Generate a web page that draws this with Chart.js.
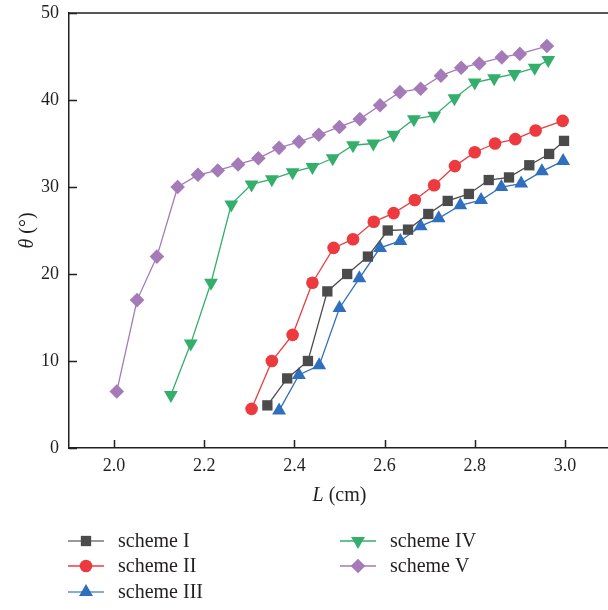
<!DOCTYPE html>
<html>
<head>
<meta charset="utf-8">
<script src="https://cdn.jsdelivr.net/npm/chart.js@4/dist/chart.umd.min.js"></script>
<style>
  html, body { margin: 0; padding: 0; background: #fff; overflow: hidden; }
  canvas { display: block; }
</style>
</head>
<body>
<canvas id="chart" width="618" height="610"></canvas>
<script>
// tick values
const X_TICKS = [2.0, 2.2, 2.4, 2.6, 2.8, 3.0];
const Y_TICKS = [0, 10, 20, 30, 40, 50];

// scheme I
const L_I = [2.34, 2.384, 2.43, 2.473, 2.517, 2.563, 2.607, 2.652, 2.697, 2.74, 2.787, 2.831, 2.876, 2.921, 2.965, 2.998];
const THETA_I = [4.9, 8.0, 10.0, 18.0, 20.0, 22.0, 25.0, 25.1, 26.9, 28.4, 29.2, 30.8, 31.1, 32.5, 33.8, 35.3];
// scheme II
const L_II = [2.305, 2.35, 2.396, 2.44, 2.487, 2.53, 2.576, 2.62, 2.667, 2.71, 2.756, 2.8, 2.845, 2.89, 2.935, 2.995];
const THETA_II = [4.5, 10.0, 13.0, 19.0, 23.0, 24.0, 26.0, 27.0, 28.5, 30.2, 32.4, 34.0, 35.0, 35.5, 36.5, 37.6];
// scheme III
const L_III = [2.366, 2.41, 2.455, 2.5, 2.544, 2.59, 2.635, 2.68, 2.72, 2.768, 2.814, 2.859, 2.903, 2.949, 2.996];
const THETA_III = [4.3, 8.4, 9.5, 16.1, 19.5, 23.0, 23.8, 25.5, 26.4, 27.9, 28.5, 30.0, 30.4, 31.8, 33.0];
// scheme IV
const L_IV = [2.126, 2.17, 2.215, 2.26, 2.305, 2.35, 2.396, 2.44, 2.485, 2.53, 2.575, 2.62, 2.665, 2.71, 2.755, 2.8, 2.843, 2.888, 2.933, 2.963];
const THETA_IV = [6.1, 12.0, 19.0, 28.0, 30.3, 30.9, 31.7, 32.3, 33.3, 34.8, 35.0, 36.0, 37.8, 38.2, 40.2, 42.0, 42.5, 43.0, 43.7, 44.6];
// scheme V
const L_V = [2.006, 2.051, 2.095, 2.141, 2.186, 2.23, 2.275, 2.32, 2.366, 2.41, 2.454, 2.5, 2.545, 2.59, 2.634, 2.68, 2.725, 2.77, 2.81, 2.86, 2.9, 2.96];
const THETA_V = [6.5, 17.0, 22.0, 30.0, 31.4, 31.9, 32.6, 33.3, 34.5, 35.2, 36.0, 36.9, 37.8, 39.4, 40.9, 41.3, 42.8, 43.7, 44.2, 44.9, 45.3, 46.2];

const SERIF = '"Liberation Serif", "Times New Roman", serif';
const AXIS_COLOR = '#231f20';
const TEXT_SIZE = 20;

function pts(xs, ys) {
  return xs.map((x, i) => ({ x: x, y: ys[i] }));
}

function series(label, xs, ys, color, style, radius, rotation) {
  return {
    label: label,
    data: pts(xs, ys),
    borderColor: color,
    backgroundColor: color,
    borderWidth: 1.3,
    pointStyle: style,
    pointRadius: radius,
    pointRotation: rotation || 0,
    pointBorderWidth: 0,
    pointBackgroundColor: color,
    pointBorderColor: color,
    showLine: true,
    tension: 0
  };
}

const datasets = [
  series('scheme I', L_I, THETA_I, '#4b4b4b', 'rect', 7.3),
  series('scheme II', L_II, THETA_II, '#ec3a3f', 'circle', 6.3),
  series('scheme III', L_III, THETA_III, '#2f6fbd', 'triangle', 8),
  series('scheme IV', L_IV, THETA_IV, '#33ae6b', 'triangle', 8, 180),
  series('scheme V', L_V, THETA_V, '#a47ab8', 'rectRot', 7.3)
];
// legend line colours are a touch lighter than the marks
const legendLine = ['#777777', '#ec3a3f', '#5b8fd0', '#33ae6b', '#a47ab8'];

// drop the label overhang so the plot area is set by the layout padding alone
function noPad(s) {
  s.paddingTop = 0;
  s.paddingBottom = 0;
  s.paddingLeft = 0;
  s.paddingRight = 0;
}

// writes an italic symbol followed by upright text, centred on (cx, cy)
function mixedTitle(ctx, sym, rest, cx, cy) {
  ctx.font = 'italic ' + TEXT_SIZE + 'px ' + SERIF;
  const w1 = ctx.measureText(sym).width;
  ctx.font = TEXT_SIZE + 'px ' + SERIF;
  const w2 = ctx.measureText(rest).width;
  const sx = cx - (w1 + w2) / 2;
  ctx.textAlign = 'left';
  ctx.font = 'italic ' + TEXT_SIZE + 'px ' + SERIF;
  ctx.fillText(sym, sx, cy);
  ctx.font = TEXT_SIZE + 'px ' + SERIF;
  ctx.fillText(rest, sx + w1, cy);
}

// inward tick marks, top frame line, axis titles and the two-column legend
const decor = {
  id: 'decor',
  afterDraw(chart) {
    const ctx = chart.ctx;
    const a = chart.chartArea;
    const xs = chart.scales.x, ys = chart.scales.y;
    ctx.save();
    ctx.strokeStyle = AXIS_COLOR;
    ctx.lineWidth = 1.5;
    ctx.beginPath();
    X_TICKS.forEach(v => {
      const p = Math.round(xs.getPixelForValue(v)) + 0.5;
      ctx.moveTo(p, a.bottom);
      ctx.lineTo(p, a.bottom - 8);
    });
    Y_TICKS.forEach(v => {
      const p = Math.round(ys.getPixelForValue(v)) + 0.5;
      ctx.moveTo(a.left, p);
      ctx.lineTo(a.left + 8, p);
    });
    ctx.moveTo(a.left, a.top);
    ctx.lineTo(a.right, a.top);
    ctx.stroke();

    // axis titles
    ctx.fillStyle = AXIS_COLOR;
    ctx.textBaseline = 'middle';
    mixedTitle(ctx, 'L', ' (cm)', (a.left + a.right) / 2, 496);
    ctx.save();
    ctx.translate(28, (a.top + a.bottom) / 2);
    ctx.rotate(-Math.PI / 2);
    mixedTitle(ctx, 'θ', ' (°)', 0, 0);
    ctx.restore();

    // legend
    const cols = [68, 340];
    const rows = [541, 566, 592];
    chart.data.datasets.forEach((ds, i) => {
      const col = i < 3 ? 0 : 1;
      const row = i < 3 ? i : i - 3;
      const x0 = cols[col], y0 = rows[row];
      ctx.strokeStyle = legendLine[i];
      ctx.lineWidth = 1.5;
      ctx.beginPath();
      ctx.moveTo(x0, y0);
      ctx.lineTo(x0 + 36, y0);
      ctx.stroke();
      ctx.fillStyle = ds.pointBackgroundColor;
      ctx.strokeStyle = ds.pointBorderColor;
      Chart.helpers.drawPoint(ctx, {
        pointStyle: ds.pointStyle,
        radius: ds.pointRadius,
        rotation: ds.pointRotation,
        borderWidth: 0
      }, x0 + 18, y0);
      ctx.fillStyle = AXIS_COLOR;
      ctx.font = TEXT_SIZE + 'px ' + SERIF;
      ctx.textAlign = 'left';
      ctx.fillText(ds.label, x0 + 50, y0 + 1);
    });
    ctx.restore();
  }
};

new Chart(document.getElementById('chart'), {
  type: 'scatter',
  data: { datasets: datasets },
  options: {
    responsive: false,
    animation: false,
    layout: { padding: { top: 13, right: 2, left: 0, bottom: 0 } },
    plugins: {
      legend: { display: false },
      tooltip: { enabled: false }
    },
    scales: {
      x: {
        type: 'linear',
        min: 1.9,
        max: 3.1,
        afterBuildTicks: s => { s.ticks = X_TICKS.map(v => ({ value: v })); },
        afterFit: s => { s.height = 162; noPad(s); },
        grid: { display: false, drawTicks: false },
        border: { display: true, color: AXIS_COLOR, width: 1.5 },
        ticks: {
          color: AXIS_COLOR,
          padding: 7,
          maxRotation: 0,
          font: { family: SERIF, size: 18 },
          callback: v => Number(v).toFixed(1)
        }
      },
      y: {
        min: 0,
        max: 50,
        afterBuildTicks: s => { s.ticks = Y_TICKS.map(v => ({ value: v })); },
        afterFit: s => { s.width = 69; noPad(s); },
        grid: { display: false, drawTicks: false },
        border: { display: true, color: AXIS_COLOR, width: 1.5 },
        ticks: {
          color: AXIS_COLOR,
          padding: 10,
          font: { family: SERIF, size: 18 },
          callback: v => String(v)
        }
      }
    }
  },
  plugins: [decor]
});
</script>
</body>
</html>
